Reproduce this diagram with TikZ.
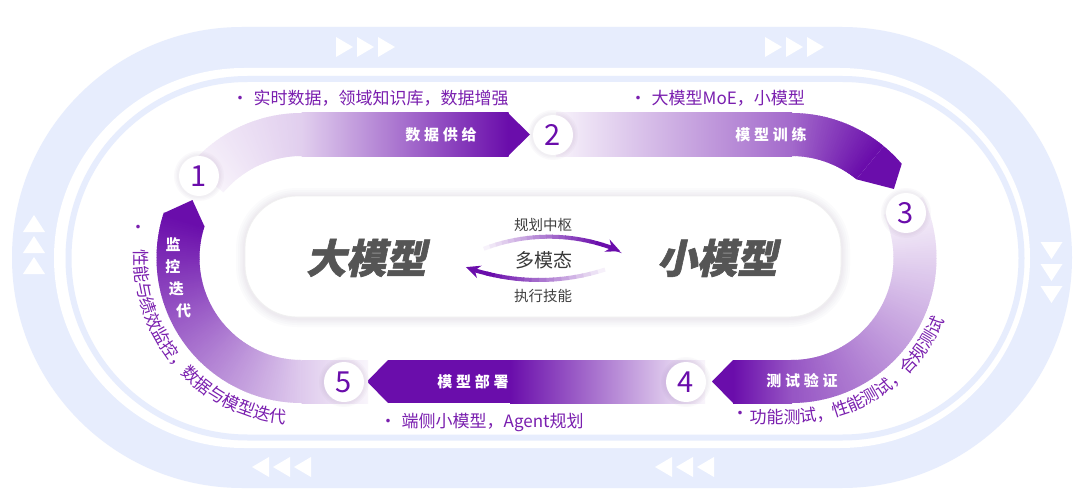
\documentclass[tikz,border=0pt]{standalone}
\usepackage{fontspec}
\setmainfont{Noto Sans CJK SC}
\newfontfamily\bandfont[LetterSpace=25]{Noto Sans CJK SC}
\newfontfamily\heavyfont[FakeSlant=0.22,FakeBold=1.5]{Noto Sans CJK SC}
\usetikzlibrary{arrows.meta,decorations.text}
\definecolor{deep}{HTML}{6A0DAB}
\definecolor{ink}{HTML}{7A1FAF}
\definecolor{laneblue}{HTML}{E7EDFD}
\definecolor{slate}{HTML}{555555}

\begin{document}
\begin{tikzpicture}[x=1pt, y=1pt, thick,
  numdot/.style={circle, fill=white, minimum size=40pt, inner sep=0pt, text=deep, font=\fontsize{29}{29}\selectfont},
  lanelabel/.style={text=white, font=\bandfont\bfseries\fontsize{15}{15}\selectfont},
  note/.style={text=ink, anchor=west, font=\fontsize{17}{17}\selectfont},
  hub/.style={text=slate, font=\heavyfont\bfseries\fontsize{40}{40}\selectfont},
  hint/.style={text=black!75, font=\fontsize{14.5}{14.5}\selectfont}]

  \useasboundingbox (0,0) rectangle (1080,-503);
  \fill[white] (0,0) rectangle (1080,-503);

  % -- Outer lane --
  \fill[laneblue, rounded corners=230] (12,-27) rectangle (1072,-488);
  \fill[white, rounded corners=190] (54,-68) rectangle (1030,-448);
  \draw[laneblue, line width=6pt, rounded corners=179] (68.5,-79) rectangle (1021.5,-437.5);

  % -- Flow chevrons on the outer lane --
  \foreach \x in {336,357,378,765,786,807}
    \fill[white] (\x,-37) -- (\x+17,-47) -- (\x,-57) -- cycle;
  \foreach \x in {252,273,294,655,676,697}
    \fill[white] (\x,-467) -- (\x+17,-457) -- (\x+17,-477) -- cycle;
  \foreach \y in {215,236,257}
    \fill[white] (34,-\y) -- (45,-\y-17) -- (23,-\y-17) -- cycle;
  \foreach \y in {242,264,286}
    \fill[white] (1051.5,-\y-17) -- (1062.5,-\y) -- (1040.5,-\y) -- cycle;

  % -- Centre panel --
  \foreach \w in {18,14,10,7,4}
    \draw[deep!25!gray, opacity=.025, line width=\w pt, rounded corners=52] (245,-197) rectangle (841,-318);
  \node[draw=black!6, fill=white, rounded corners=52, minimum width=596pt, minimum height=121pt] (panel) at (543,-256.5) {};

  \coordinate (L) at (301.5,-258);
  \coordinate (R) at (791.5,-258);

  % -- Stage 1: feed --
  \foreach \a in {140,139,...,91} {
    \pgfmathsetmacro\pct{5+15*(140-\a)/49}
    \fill[deep!\pct!white] ([shift={(\a:102)}]L) -- ([shift={(\a:145)}]L) arc[start angle=\a, end angle=\a-1.3, radius=145]
      -- ([shift={(\a-1.3:102)}]L) arc[start angle=\a-1.3, end angle=\a, radius=102] -- cycle;
  }
  \shade[left color=deep!20!white, middle color=deep!42!white, right color=deep] (301.5,-113) rectangle (508.5,-156);
  \fill[deep] (508,-113) -- (530,-134.5) -- (508,-156) -- cycle;

  % -- Stage 2: training --
  \shade[left color=deep!5!white, middle color=deep!33!white, right color=deep!62!white] (556,-113) rectangle (792,-156);
  \foreach \a in {90,89,...,52} {
    \pgfmathsetmacro\pct{62+38*(90-\a)/38}
    \fill[deep!\pct!white] ([shift={(\a:102)}]R) -- ([shift={(\a:145)}]R) arc[start angle=\a, end angle=\a-1.5, radius=145]
      -- ([shift={(\a-1.5:102)}]R) arc[start angle=\a-1.5, end angle=\a, radius=102] -- cycle;
  }
  \fill[deep] ([shift={(50.5:102)}]R) -- ([shift={(50.5:145)}]R) arc[start angle=50.5, end angle=40.5, radius=145]
    -- ([shift={(34:123.5)}]R) -- cycle;

  % -- Stage 3: testing --
  \foreach \a in {25,24,...,-89} {
    \pgfmathsetmacro\pct{4+66*(25-\a)/114}
    \fill[deep!\pct!white] ([shift={(\a:102)}]R) -- ([shift={(\a:145)}]R) arc[start angle=\a, end angle=\a-1.3, radius=145]
      -- ([shift={(\a-1.3:102)}]R) arc[start angle=\a-1.3, end angle=\a, radius=102] -- cycle;
  }
  \shade[left color=deep, right color=deep!70!white] (733,-360) rectangle (792,-403);
  \fill[deep] (733,-360) -- (712,-381.5) -- (733,-403) -- cycle;

  % -- Stage 4: deployment --
  \shade[left color=deep, middle color=deep!48!white, right color=deep!4!white] (510,-360) rectangle (705,-403);
  \fill[deep] (388,-360) rectangle (511,-403);
  \fill[deep] (388,-360) -- (367,-381.5) -- (388,-403) -- cycle;

  % -- Stage 5: monitoring --
  \shade[left color=deep!22!white, right color=deep!4!white] (301.5,-360) rectangle (368,-403);
  \foreach \a in {270,269,...,163} {
    \pgfmathsetmacro\pct{22+78*(270-\a)/107}
    \fill[deep!\pct!white] ([shift={(\a:102)}]L) -- ([shift={(\a:145)}]L) arc[start angle=\a, end angle=\a-1.3, radius=145]
      -- ([shift={(\a-1.3:102)}]L) arc[start angle=\a-1.3, end angle=\a, radius=102] -- cycle;
  }
  \fill[deep] ([shift={(162:102)}]L) -- ([shift={(162:145)}]L) -- ([shift={(152:123.5)}]L) -- cycle;

  % -- Step numbers --
  \foreach \n/\x/\y in {1/199/176, 2/553/135, 3/906/213, 4/686/382, 5/344/382} {
    \foreach \r in {25,23.5,22}
      \fill[deep!30!gray, opacity=.03] (\x,-\y) circle (\r);
    \node[numdot] (n\n) at (\x,-\y) {\n};
  }

  % -- Stage labels --
  \node[lanelabel] (feed) at (441,-135) {数据供给};
  \node[lanelabel] (train) at (771,-135) {模型训练};
  \node[lanelabel] (test) at (802,-381) {测试验证};
  \node[lanelabel] (deploy) at (473,-382) {模型部署};
  \foreach \c [count=\i] in {监,控,迭,代}
    \node[lanelabel] (mon\i) at ([shift={(164+10*\i:129)}]L) {\c};

  % -- Stage notes --
  \node[note] (feednote) at (228,-98) {•\hspace{5pt}实时数据，领域知识库，数据增强};
  \node[note] (trainnote) at (626,-98) {•\hspace{5pt}大模型MoE，小模型};
  \node[note] (deploynote) at (376,-422) {•\hspace{5pt}端侧小模型，Agent规划};
  \node[text=ink, font=\fontsize{17}{17}\selectfont] (testdot) at (740,-415) {•};
  \node[text=ink, font=\fontsize{17}{17}\selectfont] (mondot) at (138,-229) {•};
  \path[decorate, decoration={text along path, text color=ink,
      text={|\fontsize{17}{17}\selectfont|功能测试，性能测试，合规测试}}]
    (749.5,-423) -- (791.5,-423) arc[start angle=-90, end angle=-5, radius=165];
  \path[decorate, decoration={text along path, text color=ink,
      text={|\fontsize{17}{17}\selectfont|性能与绩效监控，数据与模型迭代}}]
    ([shift={(177:167)}]L) arc[start angle=177, end angle=290, radius=167];

  % -- Centre: large and small models --
  \node[hub] (big) at (366,-258) {大模型};
  \node[hub] (small) at (717,-258) {小模型};
  \node[hint] (plan) at (543,-225) {规划中枢};
  \node[text=black!78, font=\fontsize{19}{19}\selectfont] (multi) at (544,-260) {多模态};
  \node[hint] (exec) at (543,-296) {执行技能};

  \coordinate (upc) at (549,-418.7);
  \coordinate (loc) at (539,-66.4);
  \foreach \a in {113,111,...,75} {
    \pgfmathsetmacro\pct{100*(113-\a)/38}
    \draw[deep!\pct!white, line width=4pt] ([shift={(\a:182)}]upc) arc[start angle=\a, end angle=\a-2.3, radius=182];
  }
  \draw[deep, line width=4pt, -{Stealth[length=14pt, width=13pt]}] ([shift={(73:182)}]upc) arc[start angle=73, end angle=67, radius=182];
  \foreach \a in {-70,-72,...,-102} {
    \pgfmathsetmacro\pct{100*(-70-\a)/32}
    \draw[deep!\pct!white, line width=4pt] ([shift={(\a:213.6)}]loc) arc[start angle=\a, end angle=\a-2.3, radius=213.6];
  }
  \draw[deep, line width=4pt, -{Stealth[length=14pt, width=13pt]}] ([shift={(-103:213.6)}]loc) arc[start angle=-103, end angle=-110, radius=213.6];

\end{tikzpicture}
\end{document}
